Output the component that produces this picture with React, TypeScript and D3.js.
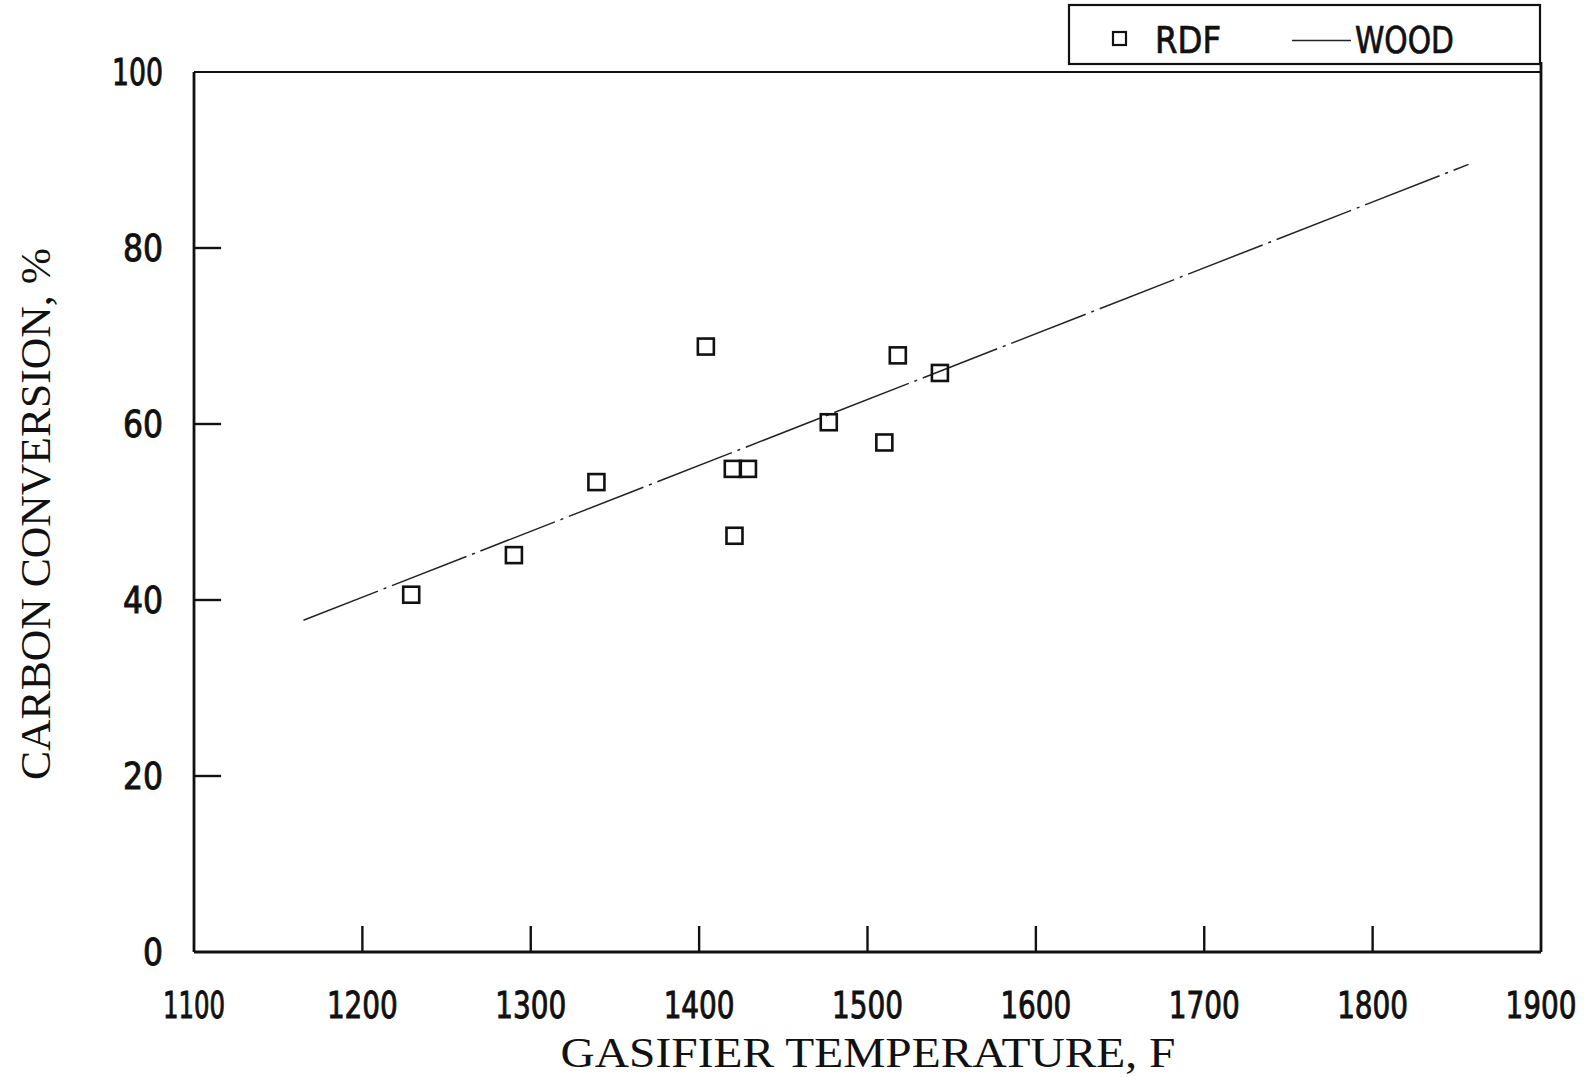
import React from 'react';
import { scaleLinear, line } from 'd3';

// values
const xTicks = [1100, 1200, 1300, 1400, 1500, 1600, 1700, 1800, 1900];
const yTicks = [0, 20, 40, 60, 80, 100];

const rdfTemp = [1229, 1290, 1339, 1404, 1420, 1429, 1421, 1477, 1510, 1518, 1543];
const rdfConv = [40.6, 45.1, 53.4, 68.8, 54.9, 54.9, 47.3, 60.2, 57.9, 67.8, 65.8];

const woodTemp = [1165, 1857];
const woodConv = [37.7, 89.5];

const W = 1589;
const H = 1077;
const left = 194, right = 1541, top = 72, bottom = 952;

const tickFont = '"DejaVu Sans Condensed", "Liberation Sans Narrow", "Liberation Sans", sans-serif';
const titleFont = '"Liberation Serif", "DejaVu Serif", serif';

// plotter digits: "1" is about 11px wide, other digits about 20px
const labelWidth = (s: string) =>
    s.split('').reduce((w, c) => w + (c === '1' ? 11 : 20), 0);

export default function App() {
    const x = scaleLinear().domain([1100, 1900]).range([left, right]);
    const y = scaleLinear().domain([0, 100]).range([bottom, top]);

    const woodLine = line<number>()
        .x((d) => x(woodTemp[d]))
        .y((d) => y(woodConv[d]));

    const sq = 16;

    return (
        <svg width={W} height={H} style={{ position: 'absolute', left: 0, top: 0, background: '#fff' }}>
            <rect x={0} y={0} width={W} height={H} fill="#fff" />

            {/* frame */}
            <g stroke="#111" strokeWidth={2.8} fill="none">
                <line x1={left} y1={top} x2={right} y2={top} strokeWidth={2} />
                <line x1={left} y1={top} x2={left} y2={bottom} />
                <line x1={left} y1={bottom} x2={right} y2={bottom} />
                <line x1={right} y1={top - 10} x2={right} y2={bottom} />
            </g>

            {/* x ticks */}
            <g>
                {xTicks.map((t) => (
                    <g key={t}>
                        {t > 1100 && t < 1900 && (
                            <line x1={x(t)} x2={x(t)} y1={bottom} y2={bottom - 26} stroke="#111" strokeWidth={2.4} />
                        )}
                        <text
                            x={x(t)}
                            y={1018}
                            textAnchor="middle"
                            fontFamily={tickFont}
                            fontSize={36.5}
                            textLength={labelWidth(String(t))}
                            lengthAdjust="spacingAndGlyphs"
                            fill="#111"
                            stroke="#111"
                            strokeWidth={0.9}
                        >
                            {t}
                        </text>
                    </g>
                ))}
            </g>

            {/* y ticks */}
            <g>
                {yTicks.map((t) => (
                    <g key={t}>
                        {t > 0 && t < 100 && (
                            <line x1={left} x2={left + 27} y1={y(t)} y2={y(t)} stroke="#111" strokeWidth={2.4} />
                        )}
                        <text
                            x={163}
                            y={y(t) + 13}
                            textAnchor="end"
                            fontFamily={tickFont}
                            fontSize={36.5}
                            textLength={labelWidth(String(t))}
                            lengthAdjust="spacingAndGlyphs"
                            fill="#111"
                            stroke="#111"
                            strokeWidth={0.9}
                        >
                            {t}
                        </text>
                    </g>
                ))}
            </g>

            {/* WOOD line */}
            <path
                d={woodLine([0, 1]) || ''}
                fill="none"
                stroke="#222"
                strokeWidth={1.5}
                strokeDasharray="80 6 3 6"
            />

            {/* RDF points */}
            <g fill="none" stroke="#111" strokeWidth={2.6}>
                {rdfTemp.map((t, i) => (
                    <rect key={i} x={x(t) - sq / 2} y={y(rdfConv[i]) - sq / 2} width={sq} height={sq} />
                ))}
            </g>

            {/* axis titles */}
            <text
                x={868}
                y={1067}
                textAnchor="middle"
                fontFamily={titleFont}
                fontSize={43}
                textLength={615}
                lengthAdjust="spacingAndGlyphs"
                fill="#111"
            >
                GASIFIER TEMPERATURE, F
            </text>
            <text
                transform="translate(50,514) rotate(-90)"
                textAnchor="middle"
                fontFamily={titleFont}
                fontSize={43}
                textLength={532}
                lengthAdjust="spacingAndGlyphs"
                fill="#111"
            >
                CARBON CONVERSION, %
            </text>

            {/* legend */}
            <g>
                <rect x={1069} y={5} width={471} height={59} fill="#fff" stroke="#111" strokeWidth={2.2} />
                <rect x={1113} y={32} width={13} height={13} fill="none" stroke="#111" strokeWidth={2.2} />
                <text x={1155} y={53} fontFamily={tickFont} fontSize={37} textLength={66} lengthAdjust="spacingAndGlyphs" fill="#111" stroke="#111" strokeWidth={0.7}>RDF</text>
                <line x1={1292} x2={1351} y1={40.5} y2={40.5} stroke="#222" strokeWidth={1.6} />
                <text x={1355} y={53} fontFamily={tickFont} fontSize={37} textLength={99} lengthAdjust="spacingAndGlyphs" fill="#111" stroke="#111" strokeWidth={0.7}>WOOD</text>
            </g>
        </svg>
    );
}
